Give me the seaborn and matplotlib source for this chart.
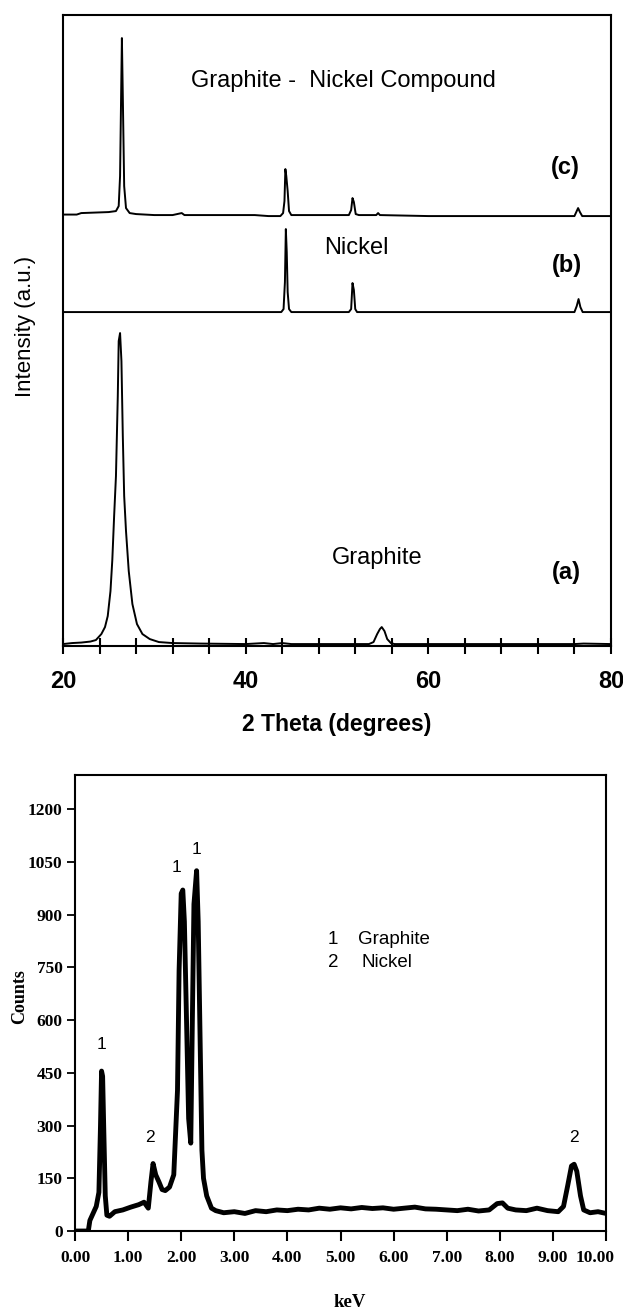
import numpy as np
import matplotlib
matplotlib.use("Agg")
import matplotlib.pyplot as plt
import matplotlib.transforms as mtransforms
from matplotlib.ticker import MultipleLocator, FixedLocator
import seaborn as sns

# ---- XRD data (2 theta in degrees, intensity in arbitrary units) ----
graphite_tt = [20.0, 21.0, 22.0, 23.0, 23.6, 24.2, 24.6, 24.9, 25.2, 25.4, 25.6, 25.8,
               26.0, 26.1, 26.25, 26.4, 26.55, 26.7, 26.9, 27.2, 27.6, 28.1, 28.7,
               29.5, 30.5, 32.0, 35.0, 40.0, 42.0, 43.0, 44.0, 45.0, 50.0, 53.5, 54.0,
               54.4, 54.7, 54.9, 55.2, 55.5, 55.9, 56.3, 60.0, 70.0, 76.0, 77.0, 80.0]
graphite_int = [2, 3, 3.5, 4.5, 6, 12, 19, 30, 55, 86, 130, 170,
                250, 305, 313, 285, 210, 150, 115, 75, 42, 22, 12,
                7, 4, 3, 2.5, 2, 3, 2, 3, 2, 2, 2, 4,
                12, 17, 19, 15, 7, 3, 2, 2, 2, 2, 2.5, 2]

nickel_tt = [20.0, 43.9, 44.15, 44.3, 44.4, 44.5, 44.6, 44.75, 45.0, 51.3, 51.55, 51.7,
             51.85, 52.0, 52.2, 76.0, 76.25, 76.45, 76.65, 76.9, 80.0]
nickel_int = [0, 0, 3, 30, 83, 60, 20, 3, 0, 0, 3, 29,
              22, 3, 0, 0, 6, 13, 5, 0, 0]

compound_tt = [20.0, 21.5, 22.0, 25.0, 25.8, 26.1, 26.25, 26.35, 26.45, 26.55, 26.7,
               26.9, 27.3, 28.0, 30.0, 32.0, 33.0, 33.3, 41.0, 42.5, 43.8, 44.1, 44.25,
               44.35, 44.45, 44.6, 44.75, 45.0, 48.0, 51.3, 51.55, 51.7, 51.85, 52.05,
               52.4, 54.3, 54.5, 54.7, 60.0, 76.0, 76.2, 76.4, 76.6, 76.85, 80.0]
compound_int = [1.5, 1.5, 3, 4, 5, 10, 40, 110, 178, 120, 30,
                8, 3, 2, 1, 1, 3, 1, 1, 0, 0, 3, 15,
                47, 40, 25, 5, 1, 1, 1, 6, 18, 14, 2,
                1, 1, 3, 1, 0, 0, 4, 8, 4, 0, 0]

# ---- EDS data (keV, counts) ----
eds_kev = [0.00, 0.25, 0.28, 0.34, 0.40, 0.45, 0.48, 0.50, 0.52, 0.54, 0.57, 0.60, 0.65,
           0.75, 0.90, 1.05, 1.20, 1.30, 1.38, 1.43, 1.47, 1.52, 1.58, 1.64, 1.70, 1.78,
           1.86, 1.93, 1.96, 2.00, 2.03, 2.06, 2.10, 2.14, 2.18, 2.21, 2.24, 2.29, 2.32,
           2.35, 2.39, 2.42, 2.48, 2.57, 2.65, 2.80, 3.00, 3.20, 3.40, 3.60, 3.80, 4.00,
           4.20, 4.40, 4.60, 4.80, 5.00, 5.20, 5.40, 5.60, 5.80, 6.00, 6.20, 6.40, 6.60,
           6.80, 7.00, 7.20, 7.40, 7.60, 7.80, 7.95, 8.05, 8.15, 8.30, 8.50, 8.70, 8.90,
           9.10, 9.20, 9.28, 9.35, 9.40, 9.45, 9.52, 9.58, 9.70, 9.85, 10.00]
eds_counts = [0, 0, 30, 50, 70, 110, 300, 455, 440, 300, 100, 45, 42,
              55, 60, 68, 75, 82, 65, 140, 192, 160, 140, 118, 115, 125,
              160, 400, 740, 960, 970, 880, 600, 320, 250, 600, 930, 1025, 880,
              600, 230, 150, 100, 65, 58, 52, 55, 50, 58, 55, 60, 58,
              62, 60, 65, 62, 66, 63, 67, 64, 66, 62, 65, 68, 63,
              62, 60, 58, 62, 57, 60, 78, 80, 65, 60, 58, 65, 58,
              55, 70, 130, 185, 190, 170, 100, 60, 52, 55, 50]

# stacking offsets of the XRD patterns
offset_a, offset_b, offset_c = 0, 334, 430

sns.set_style("ticks")
plt.rcParams['font.family'] = ['Liberation Sans', 'DejaVu Sans']
plt.rcParams.update({'text.color': 'black', 'axes.labelcolor': 'black',
                     'xtick.color': 'black', 'ytick.color': 'black'})

fig = plt.figure(figsize=(6.23, 13.11), dpi=100)

# ---------------- top: XRD ----------------
ax1 = fig.add_axes([0.1011, 0.5072, 0.8796, 0.4813])
for tt, inten, off in [(graphite_tt, graphite_int, offset_a),
                       (nickel_tt, nickel_int, offset_b),
                       (compound_tt, compound_int, offset_c)]:
    sns.lineplot(x=tt, y=np.array(inten) + off, ax=ax1, color='black', linewidth=1.4)

ax1.set_xlim(20, 80)
ax1.set_ylim(0, 631)
ax1.set_yticks([])
ax1.xaxis.set_major_locator(MultipleLocator(20))
ax1.xaxis.set_minor_locator(MultipleLocator(4))
ax1.tick_params(axis='x', which='both', direction='inout', length=11, width=1.5,
                color='black', top=False, labelsize=17, pad=12)
for lab in ax1.get_xticklabels():
    lab.set_fontweight('bold')
for sp in ax1.spines.values():
    sp.set_linewidth(1.5)
    sp.set_color('black')

ax1.set_xlabel('2 Theta (degrees)', fontsize=16.5, fontweight='bold', va='center')
ax1.xaxis.set_label_coords(0.5, -0.1236)
ax1.set_ylabel('Intensity (a.u.)', fontsize=16, va='center')
ax1.yaxis.set_label_coords(-0.0693, 0.507)

ax1.text(50.66, 565, 'Graphite -  Nickel Compound', fontsize=17, ha='center', va='center')
ax1.text(74.97, 479, '(c)', fontsize=17, fontweight='bold', ha='center', va='center')
ax1.text(52.1, 398, 'Nickel', fontsize=17, ha='center', va='center')
ax1.text(75.2, 381, '(b)', fontsize=17, fontweight='bold', ha='center', va='center')
ax1.text(54.4, 88, 'Graphite', fontsize=17, ha='center', va='center')
ax1.text(75.1, 74, '(a)', fontsize=17, fontweight='bold', ha='center', va='center')

# ---------------- bottom: EDS ----------------
serif = ['Liberation Serif', 'DejaVu Serif']
ax2 = fig.add_axes([0.1204, 0.0610, 0.8523, 0.3478])
sns.lineplot(x=eds_kev, y=eds_counts, ax=ax2, color='black', linewidth=3.5)
ax2.set_xlim(0, 10)
ax2.set_ylim(0, 1297)
ax2.xaxis.set_major_locator(FixedLocator(np.arange(0, 11, 1)))
ax2.yaxis.set_major_locator(FixedLocator(np.arange(0, 1201, 150)))
ax2.set_xticklabels([f'{v:.2f}' for v in np.arange(0, 11, 1)])
ax2.tick_params(axis='x', direction='out', length=7, width=1.5, color='black', pad=7)
ax2.tick_params(axis='y', direction='out', length=6, width=1.3, color='black', pad=3)
for lab in ax2.get_xticklabels() + ax2.get_yticklabels():
    lab.set_family(serif)
    lab.set_fontweight('bold')
    lab.set_fontsize(12.5)

# last x label sits at the figure edge, nudge it left so it is not clipped
last = ax2.get_xticklabels()[-1]
last.set_transform(last.get_transform() +
                   mtransforms.ScaledTranslation(-8 / 72, 0, fig.dpi_scale_trans))

for sp in ax2.spines.values():
    sp.set_linewidth(1.5)
    sp.set_color('black')

ax2.set_xlabel('keV', family=serif, fontsize=13.5, fontweight='bold', va='center')
ax2.xaxis.set_label_coords(0.518, -0.1557)
ax2.set_ylabel('Counts', family=serif, fontsize=13, fontweight='bold', va='center')
ax2.yaxis.set_label_coords(-0.1036, 0.515)

peak_labels = [(0.50, 531, '1'), (1.42, 265, '2'), (1.92, 1035, '1'),
               (2.28, 1085, '1'), (9.40, 265, '2')]
for x, y, s in peak_labels:
    ax2.text(x, y, s, fontsize=12.5, ha='center', va='center')

ax2.text(4.86, 829, '1', fontsize=13.5, ha='center', va='center')
ax2.text(5.33, 829, 'Graphite', fontsize=13.5, ha='left', va='center')
ax2.text(4.86, 763, '2', fontsize=13.5, ha='center', va='center')
ax2.text(5.40, 763, 'Nickel', fontsize=13.5, ha='left', va='center')

fig.savefig('out.png', dpi=100, facecolor='white')
